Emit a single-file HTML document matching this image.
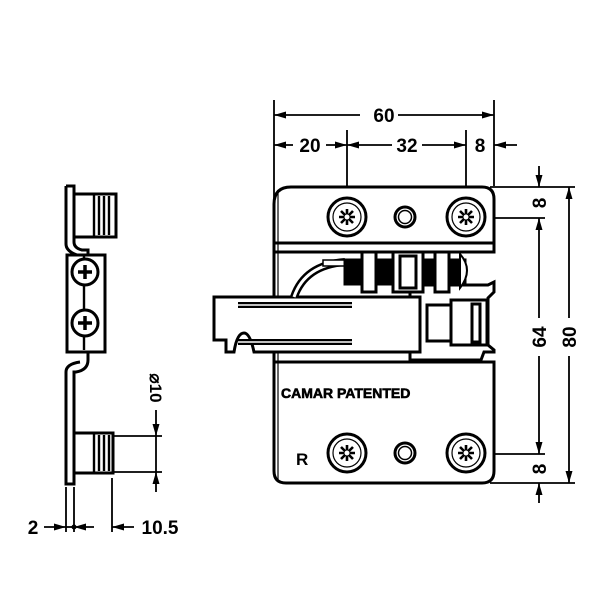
<!DOCTYPE html>
<html><head><style>body{margin:0;background:#fff}svg{display:block}text{font-family:"Liberation Sans",sans-serif;font-weight:bold;fill:#000}</style></head><body>
<svg width="600" height="600" viewBox="0 0 600 600" xmlns="http://www.w3.org/2000/svg">
<defs>
<marker id="a" viewBox="0 0 12 7" refX="12" refY="3.5" markerWidth="12" markerHeight="7" orient="auto-start-reverse" markerUnits="userSpaceOnUse"><path d="M0,0L12,3.5L0,7z" fill="#000"/></marker>
<g id="scr"><circle r="19" fill="#fff" stroke="#000" stroke-width="3"/><circle r="14" fill="none" stroke="#000" stroke-width="1.2"/><g stroke="#000" stroke-width="2.6"><path d="M-8,0H8M0,-8V8M-6,-6L6,6M-6,6L6,-6"/></g><circle r="2.5" fill="#fff"/></g>
<g id="hole"><circle r="10" fill="#fff" stroke="#000" stroke-width="3"/><circle r="6.5" fill="none" stroke="#000" stroke-width="1.5"/></g>
</defs>
<g fill="none" stroke="#000" stroke-width="1.8">
<path d="M274,100V300M494,100V186M347,130V217M466,130V217M494,186V140"/>
<line x1="274" y1="115" x2="360" y2="115" marker-start="url(#a)"/><line x1="398" y1="115" x2="494" y2="115" marker-end="url(#a)"/>
<line x1="274" y1="145" x2="293" y2="145" marker-start="url(#a)"/><line x1="326" y1="145" x2="347" y2="145" marker-end="url(#a)"/>
<line x1="347" y1="145" x2="392" y2="145" marker-start="url(#a)"/><line x1="422" y1="145" x2="466" y2="145" marker-end="url(#a)"/>
<line x1="517" y1="145" x2="494" y2="145" marker-end="url(#a)"/>
<path d="M490,187H575M466,218H545M466,454H545M490,483H575"/>
<line x1="539" y1="166" x2="539" y2="187" marker-end="url(#a)"/>
<line x1="539" y1="318" x2="539" y2="218" marker-end="url(#a)"/><line x1="539" y1="356" x2="539" y2="454" marker-end="url(#a)"/>
<line x1="539" y1="503" x2="539" y2="483" marker-end="url(#a)"/>
<line x1="569" y1="318" x2="569" y2="187" marker-end="url(#a)"/><line x1="569" y1="356" x2="569" y2="483" marker-end="url(#a)"/>
<path d="M112,436H162M112,472H162M66,487V532M74,487V532M112,478V532"/>
<line x1="156" y1="410" x2="156" y2="436" marker-end="url(#a)"/><line x1="156" y1="436" x2="156" y2="472"/><line x1="156" y1="492" x2="156" y2="472" marker-end="url(#a)"/>
<line x1="44" y1="527" x2="66" y2="527" marker-end="url(#a)"/><line x1="66" y1="527" x2="74" y2="527"/><line x1="94" y1="527" x2="74" y2="527" marker-end="url(#a)"/>
<line x1="134" y1="527" x2="112" y2="527" marker-end="url(#a)"/>
</g>
<circle cx="74" cy="527" r="2.5" fill="#000"/>
<g font-size="19">
<text x="384" y="122" text-anchor="middle">60</text>
<text x="310" y="152" text-anchor="middle">20</text>
<text x="407" y="152" text-anchor="middle">32</text>
<text x="480" y="152" text-anchor="middle">8</text>
<text x="33" y="534" text-anchor="middle">2</text>
<text x="160" y="534" text-anchor="middle">10.5</text>
<text transform="translate(546,203) rotate(-90)" text-anchor="middle">8</text>
<text transform="translate(546,337) rotate(-90)" text-anchor="middle">64</text>
<text transform="translate(576,337) rotate(-90)" text-anchor="middle">80</text>
<text transform="translate(546,469) rotate(-90)" text-anchor="middle">8</text>
<text transform="translate(150,388) rotate(90)" text-anchor="middle" font-size="17">⌀10</text>
</g>
<g fill="#fff" stroke="#000" stroke-width="3">
<path d="M274,245V204Q274,187 291,187H482Q494,187 494,199V252H274z"/>
<path d="M274,362H494V471Q494,483 482,483H286Q274,483 274,471z"/>
<path d="M274,252V297M274,352V362"/>
</g>
<path d="M274,243H494" stroke="#000" stroke-width="3"/>
<path d="M278,190V480" stroke="#000" stroke-width="1.2"/>
<g fill="#fff" stroke="#000" stroke-width="3">
<path d="M410,285H488L494,282V292L488,298V345L494,350V352H484L481,360H410z"/>
<path d="M214,297H420V352H254Q250,333 244,333Q237,333 234,352H226V340H214z"/>
<path d="M294,297Q305,265 345,262" fill="none" stroke-width="8"/>
<path d="M294,297Q305,265 345,262" fill="none" stroke="#fff" stroke-width="3"/>
<rect x="323" y="260" width="22" height="6" stroke-width="1.5"/>
<rect x="345" y="260" width="120" height="24" fill="#000"/>
<rect x="362" y="252" width="14" height="40"/>
<rect x="393" y="252" width="30" height="40"/>
<rect x="400" y="256" width="16" height="32"/>
<rect x="435" y="252" width="14" height="40"/>
<path d="M460,254Q474,270 460,288z" stroke-width="2"/>
<rect x="427" y="305" width="24" height="36"/>
<rect x="451" y="300" width="36" height="45"/>
<rect x="472" y="304" width="8" height="38"/>
</g>
<path d="M238,305H352M238,342H352" stroke="#000" stroke-width="6"/>
<path d="M238,305H352M238,342H352" stroke="#fff" stroke-width="1.5"/>
<text x="281" y="398" font-size="14" stroke="#000" stroke-width="0.6">CAMAR PATENTED</text>
<text x="296" y="465" font-size="17" font-weight="normal">R</text>
<use href="#scr" x="347" y="217"/><use href="#scr" x="466" y="217"/>
<use href="#scr" x="347" y="453"/><use href="#scr" x="466" y="453"/>
<use href="#hole" x="405" y="217"/><use href="#hole" x="405" y="453"/>
<g fill="#fff" stroke="#000" stroke-width="3">
<path d="M66,186H74V242Q74,248 82,250H88V255M66,186V244Q66,252 80,256"/>
<rect x="74" y="194" width="42" height="43"/>
<rect x="67" y="255" width="38" height="97"/>
<path d="M88,352V360Q88,370 76,372H74V484H66V372Q66,364 80,362"/>
<rect x="74" y="433" width="39" height="40"/>
</g>
<g stroke="#000" stroke-width="2.4"><path d="M94,194V237M99,196V235M104,196V235M109,196V235M94,433V473M99,435V471M104,435V471M109,435V471M84,256V350"/></g>
<g fill="#fff" stroke="#000" stroke-width="3"><circle cx="85" cy="272" r="13"/><circle cx="85" cy="323" r="13"/></g>
<g stroke="#000" stroke-width="3.5"><path d="M78,272H92M85,265V279M78,323H92M85,316V330"/></g>
</svg>
</body></html>
